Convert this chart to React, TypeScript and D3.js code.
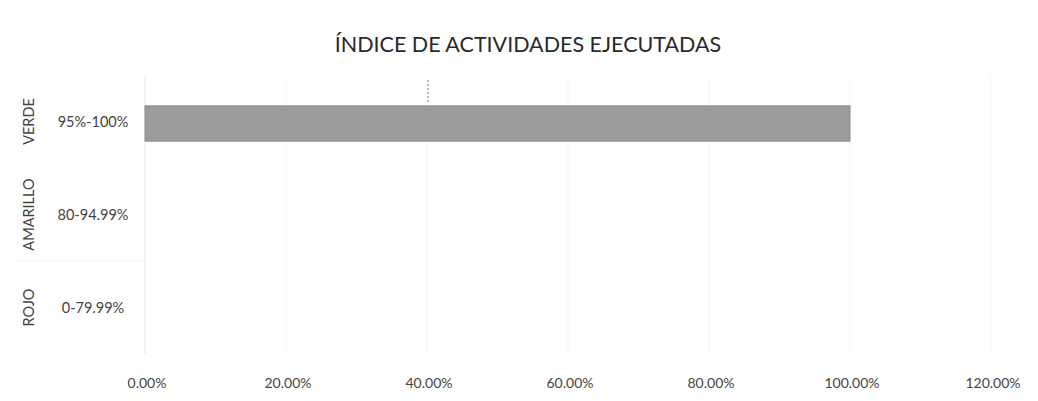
import * as d3 from "d3";

const groups = ["VERDE", "AMARILLO", "ROJO"];
const ranges = ["95%-100%", "80-94.99%", "0-79.99%"];
const values = [1.0, 0, 0];
const xTicks = [0, 0.2, 0.4, 0.6, 0.8, 1.0, 1.2];
const title = "ÍNDICE DE ACTIVIDADES EJECUTADAS";

const W = 1038;
const H = 401;
const font = "Lato, 'Open Sans', sans-serif";

export default function App() {
  const x = d3.scaleLinear().domain([0, 1.2]).range([145, 991]);
  const y = d3.scaleBand().domain(ranges).range([77, 356]).paddingInner(0.62).paddingOuter(0.31);
  const band = d3.scaleBand().domain(ranges).range([75, 354]);
  const fmt = d3.format(".2%");

  return (
    <svg width={W} height={H} style={{ position: "absolute", left: 0, top: 0, background: "#fff" }}>
      <text x={528} y={52} textAnchor="middle" fontFamily={font} fontSize={21.5} fill="#2a2a2a">
        {title}
      </text>
      {/* faint gridlines */}
      {xTicks.map((t) => (
        <line key={t} x1={x(t)} x2={x(t)} y1={75} y2={354} stroke="#f7f7f7" />
      ))}
      {/* category axis line and group separators */}
      <line x1={x(0)} x2={x(0)} y1={75} y2={354} stroke="#ececec" />
      {ranges.slice(1).map((r) => (
        <line key={r} x1={10} x2={x(0)} y1={band(r)!} y2={band(r)!} stroke="#f7f7f7" />
      ))}
      {/* bars */}
      {ranges.map((r, i) =>
        values[i] > 0 ? (
          <rect
            key={r}
            x={x(0)}
            y={y(r)!}
            width={x(values[i]) - x(0)}
            height={y.bandwidth()}
            fill="#9a9c99"
            stroke="#8d8f8c"
          />
        ) : null
      )}
      {/* scan artifact mark */}
      <line x1={428} x2={428} y1={80} y2={104} stroke="#777" strokeDasharray="2,2" />
      {/* inner category labels */}
      {ranges.map((r) => (
        <text
          key={r}
          x={93}
          y={band(r)! + band.bandwidth() / 2}
          dy="0.35em"
          textAnchor="middle"
          fontFamily={font}
          fontSize={14.5}
          fill="#444"
        >
          {r}
        </text>
      ))}
      {/* outer rotated group labels */}
      {groups.map((g, i) => {
        const cy = band(ranges[i])! + band.bandwidth() / 2;
        return (
          <text
            key={g}
            transform={`translate(29,${cy}) rotate(-90)`}
            dy="0.35em"
            textAnchor="middle"
            fontFamily={font}
            fontSize={14.5}
            fill="#444"
          >
            {g}
          </text>
        );
      })}
      {/* x tick labels */}
      {xTicks.map((t) => (
        <text key={t} x={x(t) + 2} y={388} textAnchor="middle" fontFamily={font} fontSize={14} fill="#444">
          {fmt(t)}
        </text>
      ))}
    </svg>
  );
}
